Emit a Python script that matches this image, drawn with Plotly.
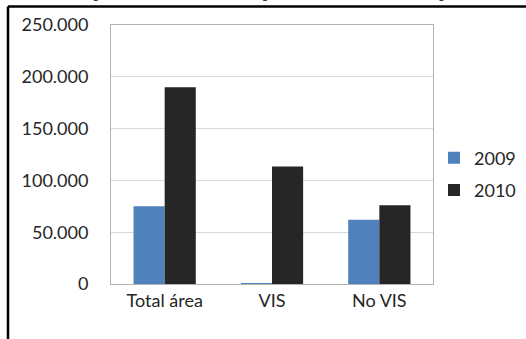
import plotly.graph_objects as go

# Licensed area by category, two years
categories = ["Total área", "VIS", "No VIS"]
values_2009 = [75000, 800, 62000]
values_2010 = [190000, 113500, 76000]
series_names = ["2009", "2010"]
tick_values = [0, 50000, 100000, 150000, 200000, 250000]

FONT = "Lato"
W, H = 526, 339
L, R, T, B = 111, 93, 25, 55
pw, ph = W - L - R, H - T - B


def px_x(px):
    return (px - L) / pw


def px_y(py):
    return (H - B - py) / ph


fig = go.Figure()
fig.add_trace(go.Bar(x=categories, y=values_2009, name=series_names[0],
                     legendgroup="a",
                     marker=dict(color="#4f81bd", line=dict(width=0))))
fig.add_trace(go.Bar(x=categories, y=values_2010, name=series_names[1],
                     legendgroup="b",
                     marker=dict(color="#262626", line=dict(width=0))))

fig.update_layout(
    width=W, height=H,
    margin=dict(l=L, r=R, t=T, b=B, pad=0, autoexpand=False),
    paper_bgcolor="white", plot_bgcolor="white",
    separators=",.",
    barmode="group", bargap=0.42, bargroupgap=0,
    font=dict(family=FONT, size=18, color="#262626"),
    showlegend=True,
    legend=dict(x=px_x(434), y=px_y(174), xanchor="left", yanchor="middle",
                font=dict(family=FONT, size=18, color="#262626"),
                bgcolor="rgba(0,0,0,0)", itemwidth=30,
                traceorder="grouped", tracegroupgap=6),
    xaxis=dict(showgrid=False, showline=True, linecolor="#b3b3b3", linewidth=1,
               mirror=True, ticks="", tickfont=dict(family=FONT, size=18),
               ticklabelstandoff=0),
    yaxis=dict(range=[0, 250000], tickvals=tick_values, tickformat=",d",
               showgrid=True, gridcolor="#d9d9d9", gridwidth=1,
               showline=True, linecolor="#b3b3b3", linewidth=1, mirror=True,
               zeroline=False, ticks="", ticklabelstandoff=18,
               tickfont=dict(family=FONT, size=18)),
)

# outer frame lines (left and top)
fig.add_shape(type="line", xref="paper", yref="paper",
              x0=px_x(8), x1=px_x(8), y0=px_y(6.5), y1=px_y(H + 5),
              line=dict(color="black", width=2.5))
fig.add_shape(type="line", xref="paper", yref="paper",
              x0=px_x(8), x1=px_x(W + 5), y0=px_y(6.5), y1=px_y(6.5),
              line=dict(color="black", width=2.5))

# title, mostly above the top edge of the page
fig.add_annotation(text="<b>(Área en m²) 2009-2010)</b>", xref="paper", yref="paper",
                   x=px_x(268), y=px_y(5), xanchor="center", yanchor="bottom",
                   showarrow=False, font=dict(family="DejaVu Sans", size=26, color="black"))

fig.write_html("out.html")
